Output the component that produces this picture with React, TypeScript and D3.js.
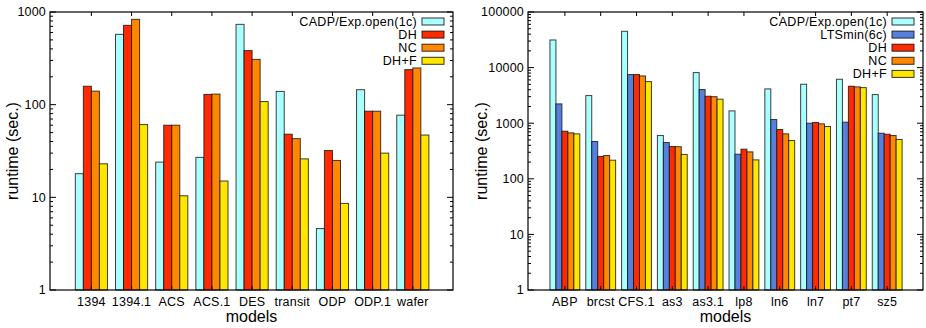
import React from "react";
import * as d3 from "d3";

// left panel
const leftModels = ["1394", "1394.1", "ACS", "ACS.1", "DES", "transit", "ODP", "ODP.1", "wafer"];
const leftCadp = [18, 574, 24, 27, 736, 139, 4.6, 145, 77];
const leftDH = [158, 718, 60, 129, 383, 48, 32, 85, 239];
const leftNC = [140, 833, 60, 130, 308, 43, 25, 85, 249];
const leftDHF = [23, 61, 10.4, 15, 108, 26, 8.6, 30, 47];
const leftTicks = [1, 10, 100, 1000];

// right panel
const rightModels = ["ABP", "brcst", "CFS.1", "as3", "as3.1", "lp8", "ln6", "ln7", "pt7", "sz5"];
const rightCadp = [31400, 3140, 45000, 600, 8130, 1666, 4140, 5020, 6170, 3270];
const rightLTS = [2225, 469, 7490, 450, 4030, 277, 1164, 1000, 1042, 661];
const rightDH = [718, 252, 7490, 381, 3055, 341, 770, 1030, 4620, 634];
const rightNC = [670, 262, 7080, 378, 3000, 305, 643, 973, 4500, 600];
const rightDHF = [643, 216, 5600, 274, 2700, 219, 488, 871, 4370, 509];
const rightTicks = [1, 10, 100, 1000, 10000, 100000];

const FONT = "'Liberation Sans', Arial, Helvetica, sans-serif";

type Series = { name: string; color: string; values: number[] };

function Panel({ models, series, ticks, left, right, xMin, labelX }: {
  models: string[]; series: Series[]; ticks: number[];
  left: number; right: number; xMin: number; labelX: number;
}) {
  const top = 12, bottom = 290;
  const x = d3.scaleLinear().domain([xMin, models.length]).range([left, right]);
  const y = d3.scaleLog().domain([ticks[0], ticks[ticks.length - 1]]).range([bottom, top]);
  const bw = 1 / (series.length + 1);
  const minors: number[] = [];
  ticks.slice(0, -1).forEach((t) => {
    for (let k = 2; k <= 9; k++) minors.push(t * k);
  });
  return (
    <g fontFamily={FONT}>
      {series.map((s, si) =>
        s.values.map((v, i) => {
          const c = i + (si - (series.length - 1) / 2) * bw;
          const x0 = x(c - bw / 2), x1 = x(c + bw / 2);
          return (
            <rect key={s.name + i} x={x0} y={y(v)} width={x1 - x0} height={bottom - y(v)}
              fill={s.color} stroke="#111" strokeOpacity={0.8} strokeWidth={1} />
          );
        })
      )}
      {/* frame */}
      <rect x={left} y={top} width={right - left} height={bottom - top} fill="none" stroke="#000" strokeWidth={1.2} />
      {ticks.map((t) => (
        <g key={t}>
          <line x1={left} x2={left + 6} y1={y(t)} y2={y(t)} stroke="#000" />
          <line x1={right} x2={right - 6} y1={y(t)} y2={y(t)} stroke="#000" />
          <text x={left - 4} y={y(t)} dy="0.35em" textAnchor="end" fontSize={12.5} letterSpacing={0.2}>{t}</text>
        </g>
      ))}
      {minors.map((t) => (
        <g key={"m" + t}>
          <line x1={left} x2={left + 3} y1={y(t)} y2={y(t)} stroke="#000" />
          <line x1={right} x2={right - 3} y1={y(t)} y2={y(t)} stroke="#000" />
        </g>
      ))}
      {models.map((m, i) => (
        <g key={m}>
          <line x1={x(i)} x2={x(i)} y1={bottom} y2={bottom - 4} stroke="#000" />
          <line x1={x(i)} x2={x(i)} y1={top} y2={top + 4} stroke="#000" />
          <text x={x(i)} y={306} textAnchor="middle" fontSize={12.5} letterSpacing={0.2}>{m}</text>
        </g>
      ))}
      <text x={(left + right) / 2} y={322} textAnchor="middle" fontSize={16}>models</text>
      <text transform={`translate(${labelX},${(top + bottom) / 2}) rotate(-90)`} textAnchor="middle" fontSize={16}>runtime (sec.)</text>
      {/* legend */}
      {series.map((s, si) => {
        const cy = 21.5 + si * 13.1;
        return (
          <g key={"l" + s.name}>
            <text x={right - 36} y={cy} dy="0.36em" textAnchor="end" fontSize={12.5} letterSpacing={0.3}>{s.name}</text>
            <rect x={right - 31} y={cy - 3.5} width={22} height={7} fill={s.color} stroke="#111" strokeOpacity={0.85} />
          </g>
        );
      })}
    </g>
  );
}

const CYAN = "#aaffff", BLUE = "#5580dd", RED = "#ff2a00", ORANGE = "#ff8800", YELLOW = "#ffe600";

export default function App() {
  const leftSeries: Series[] = [
    { name: "CADP/Exp.open(1c)", color: CYAN, values: leftCadp },
    { name: "DH", color: RED, values: leftDH },
    { name: "NC", color: ORANGE, values: leftNC },
    { name: "DH+F", color: YELLOW, values: leftDHF },
  ];
  const rightSeries: Series[] = [
    { name: "CADP/Exp.open(1c)", color: CYAN, values: rightCadp },
    { name: "LTSmin(6c)", color: BLUE, values: rightLTS },
    { name: "DH", color: RED, values: rightDH },
    { name: "NC", color: ORANGE, values: rightNC },
    { name: "DH+F", color: YELLOW, values: rightDHF },
  ];
  return (
    <div style={{ position: "absolute", left: 0, top: 0 }}>
      <svg width={926} height={328} style={{ display: "block", background: "#fff" }}>
        <Panel models={leftModels} series={leftSeries} ticks={leftTicks}
          left={50} right={453} xMin={-1.03} labelX={18} />
        <Panel models={rightModels} series={rightSeries} ticks={rightTicks}
          left={528} right={923} xMin={-1.03} labelX={487} />
      </svg>
    </div>
  );
}
